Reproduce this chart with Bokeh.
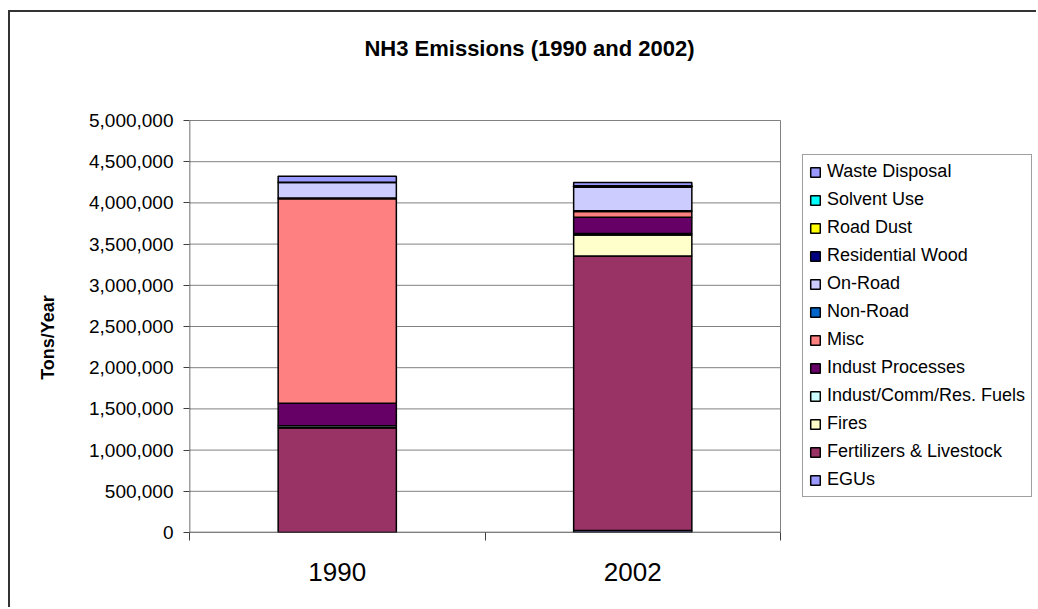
from bokeh.plotting import figure
from bokeh.models import (ColumnDataSource, FixedTicker, NumeralTickFormatter, Legend,
                          LegendItem, Range1d, Label)
from bokeh.embed import file_html
from bokeh.resources import INLINE

# ---- data (tons/year) ----
years = ["1990", "2002"]
series = ["EGUs", "Fertilizers & Livestock", "Fires", "Indust/Comm/Res. Fuels",
          "Indust Processes", "Misc", "Non-Road", "On-Road", "Residential Wood",
          "Road Dust", "Solvent Use", "Waste Disposal"]
egus = [0, 25000]
fertilizers = [1270000, 3330000]
fires = [0, 255000]
indust_fuels = [25000, 20000]
indust_processes = [275000, 197000]
misc = [2480000, 69000]
non_road = [8000, 10000]
on_road = [190000, 285000]
residential_wood = [3000, 10000]
road_dust = [0, 5000]
solvent_use = [0, 2000]
waste_disposal = [73000, 40000]
colors = ["#9999FF", "#993366", "#FFFFCC", "#CCFFFF", "#660066", "#FF8080",
          "#0066CC", "#CCCCFF", "#000080", "#FFFF00", "#00FFFF", "#9999FF"]
y_ticks = [0, 500000, 1000000, 1500000, 2000000, 2500000, 3000000,
           3500000, 4000000, 4500000, 5000000]

values = [egus, fertilizers, fires, indust_fuels, indust_processes, misc, non_road,
          on_road, residential_wood, road_dust, solvent_use, waste_disposal]

FONT = "Liberation Sans"

# ---- layout (pixels in the page) ----
CANVAS_X, CANVAS_Y = 10, 12          # after 8/10 px margin + 2 px border
W, H = 1028, 597
PLOT_L, PLOT_R, PLOT_T, PLOT_B = 189, 780, 120, 532
FRAME_L, FRAME_T = PLOT_L, CANVAS_Y
FRAME_R = CANVAS_X + W
n_units = 2 * len(years)
x_end = n_units * (FRAME_R - FRAME_L) / (PLOT_R - PLOT_L)
y_top = y_ticks[-1]
y_end = y_top * (PLOT_B - FRAME_T) / (PLOT_B - PLOT_T)

x_pos = [2 * i + 1 for i in range(len(years))]
data = {"x": x_pos}
for name, vals in zip(series, values):
    data[name] = vals
src = ColumnDataSource(data)

p = figure(width=W, height=H, output_backend="svg", toolbar_location=None,
           x_range=Range1d(0, x_end), y_range=Range1d(0, y_end),
           min_border_left=FRAME_L - CANVAS_X, min_border_right=0,
           min_border_top=0, min_border_bottom=CANVAS_Y + H - PLOT_B)
p.styles = {"border-top": "2px solid #333333", "border-left": "2px solid #333333",
            "margin-left": "8px", "margin-top": "10px"}
p.border_fill_color = "white"
p.background_fill_color = "white"
p.outline_line_color = None

# gridlines and plot-area box
p.segment(x0=0, x1=n_units, y0=y_ticks, y1=y_ticks, line_color="#808080", line_width=1)
p.segment(x0=[n_units], x1=[n_units], y0=[0], y1=[y_top], line_color="#808080", line_width=1)

rs = p.vbar_stack(series, x="x", width=0.8, source=src, fill_color=colors,
                  line_color="black", line_width=1.5)

# axis lines
p.segment(x0=[0, 0], x1=[0, n_units], y0=[0, 0], y1=[y_top, 0],
          line_color="#404040", line_width=1.5)

# y axis
p.yaxis.ticker = FixedTicker(ticks=y_ticks, minor_ticks=[])
p.yaxis.formatter = NumeralTickFormatter(format="0,0")
p.yaxis.major_label_text_font = FONT
p.yaxis.major_label_text_font_size = "19px"
p.yaxis.major_label_text_color = "black"
p.yaxis.major_tick_out = 6
p.yaxis.major_tick_in = 0
p.yaxis.major_label_standoff = 10
p.yaxis.axis_line_color = None
p.yaxis.major_tick_line_color = "#404040"
# axis label is centred on the frame; trailing no-break spaces move it to the plot-area centre
p.yaxis.axis_label = "Tons/Year" + "\u00a0" * 26
p.yaxis.axis_label_text_font = FONT
p.yaxis.axis_label_text_font_size = "18px"
p.yaxis.axis_label_text_font_style = "bold"
p.yaxis.axis_label_text_color = "black"
p.yaxis.axis_label_standoff = 28

# x axis
p.xaxis.ticker = FixedTicker(ticks=x_pos, minor_ticks=list(range(0, n_units + 1, 2)))
p.xaxis.major_label_overrides = {x: y for x, y in zip(x_pos, years)}
p.xaxis.major_label_text_font = FONT
p.xaxis.major_label_text_font_size = "26px"
p.xaxis.major_label_text_color = "black"
p.xaxis.major_tick_out = 0
p.xaxis.major_tick_in = 0
p.xaxis.minor_tick_out = 8
p.xaxis.minor_tick_in = 0
p.xaxis.minor_tick_line_color = "#404040"
p.xaxis.axis_line_color = None
p.xaxis.major_label_standoff = 22

p.xgrid.visible = False
p.ygrid.visible = False

# title (screen units are measured from the frame's bottom-left corner)
title = Label(x=529 - FRAME_L, y=PLOT_B - 48, x_units="screen", y_units="screen",
              text="NH3 Emissions (1990 and 2002)", text_align="center",
              text_baseline="middle", text_font=FONT, text_font_size="22px",
              text_font_style="bold", text_color="black")
p.add_layout(title)

# legend
items = [LegendItem(label=s, renderers=[r]) for s, r in zip(series, rs)][::-1]
legend = Legend(items=items, location=(802 - FRAME_L, PLOT_B - 497), margin=0,
                padding=6, spacing=7, label_height=21, glyph_height=12, glyph_width=12,
                label_standoff=6, label_text_font=FONT, label_text_font_size="18px",
                label_text_color="black", border_line_color="#404040",
                border_line_width=1, background_fill_color="white",
                background_fill_alpha=1)
p.add_layout(legend)

open("out.html", "w").write(file_html(p, INLINE))
